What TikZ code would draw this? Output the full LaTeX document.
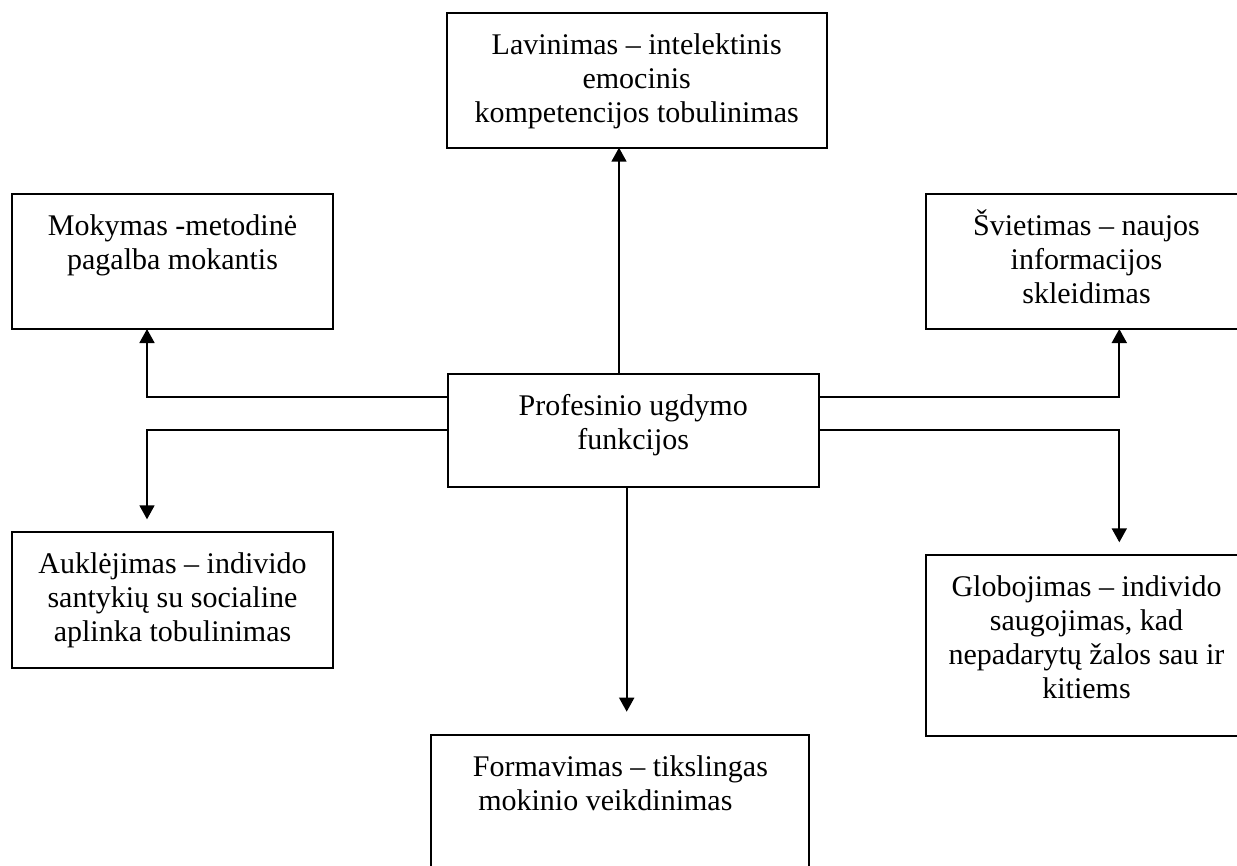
\documentclass[tikz,border=0pt]{standalone}
\usepackage{fontspec}
\setmainfont{Liberation Serif}
\usetikzlibrary{arrows.meta}
\begin{document}
\begin{tikzpicture}[x=1pt,y=-1pt,
  box/.style={draw, line width=1.8pt, inner sep=0pt, outer sep=0pt},
  txt/.style={anchor=north, inner sep=0pt, outer sep=0pt, align=center, font=\fontsize{30}{34}\selectfont},
  arr/.style={line width=1.8pt, -{Triangle[width=15pt,length=14pt]}}]
\useasboundingbox (0,0) rectangle (1237,865);
\clip (0,0) rectangle (1237,865);
% boxes
\node[box, minimum width=380pt, minimum height=134.4pt] (top) at (636.7,80.5) {};
\node[box, minimum width=321.6pt, minimum height=135pt] (mok) at (172.5,261.5) {};
\node[box, minimum width=321pt, minimum height=135pt] (svi) at (1086.5,261.5) {};
\node[box, minimum width=371pt, minimum height=112.4pt] (c) at (633.2,430.5) {};
\node[box, minimum width=321.6pt, minimum height=136pt] (auk) at (172.5,600.3) {};
\node[box, minimum width=321pt, minimum height=180.7pt] (glo) at (1086.5,645.35) {};
\node[box, minimum width=378.3pt, minimum height=145pt] (form) at (619.85,807.5) {};
% texts
\node[txt] (toptxt) at ([yshift=-17.5pt]top.north) {\strut Lavinimas – intelektinis\\\strut emocinis\\\strut kompetencijos tobulinimas};
\node[txt] (moktxt) at ([yshift=-17.5pt]mok.north) {\strut Mokymas -metodinė\\\strut pagalba mokantis};
\node[txt] (svitxt) at ([yshift=-17.5pt]svi.north) {\strut \smash{Š}vietimas – naujos\\\strut informacijos\\\strut skleidimas};
\node[txt] (ctxt) at ([yshift=-17.5pt]c.north) {\strut Profesinio ugdymo\\\strut funkcijos};
\node[txt] (auktxt) at ([yshift=-17.5pt]auk.north) {\strut Auklėjimas – individo\\\strut santykių su socialine\\\strut aplinka tobulinimas};
\node[txt] (glotxt) at ([yshift=-17.5pt]glo.north) {\strut Globojimas – individo\\\strut saugojimas, kad\\\strut nepadarytų žalos sau ir\\\strut kitiems};
\node[txt, align=left] (formtxt) at ([xshift=0.6pt,yshift=-17.5pt]form.north) {\strut Formavimas – tikslingas\\\hspace*{5.3pt}\strut mokinio veikdinimas};
% helper coordinates
\coordinate (ya) at (0,397);
\coordinate (yb) at (0,430);
\coordinate (xl) at (147,0);
\coordinate (xr) at (1119.3,0);
\coordinate (xt) at (619,0);
\coordinate (xb) at (626.7,0);
\coordinate (aukend) at (147,519.3);
\coordinate (gloend) at (1119.3,542.3);
\coordinate (formend) at (626.7,711.7);
% connectors
\draw[arr] (c.north -| xt) -- (xt |- top.south);
\draw[arr] (c.west |- ya) -| (xl |- mok.south);
\draw[arr] (c.east |- ya) -| (xr |- svi.south);
\draw[arr] (c.west |- yb) -| (aukend);
\draw[arr] (c.east |- yb) -| (gloend);
\draw[arr] (c.south -| xb) -- (formend);
\end{tikzpicture}
\end{document}
